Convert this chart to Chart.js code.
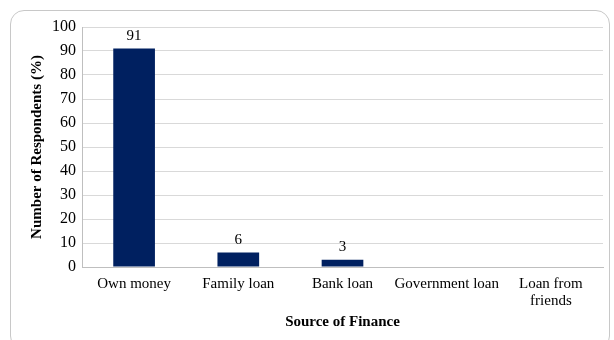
<!DOCTYPE html>
<html>
<head>
<meta charset="utf-8">
<script src="https://cdn.jsdelivr.net/npm/chart.js@4"></script>
<style>
    html, body { margin: 0; padding: 0; background: #fff; }
    #wrap { position: relative; width: 614px; height: 340px; }
    #frame { position: absolute; left: 10px; top: 10px; width: 600px; height: 340px;
             border: 1px solid #c8c8c8; border-radius: 14px; box-sizing: border-box; }
    canvas { position: absolute; left: 0; top: 0; }
</style>
</head>
<body>
<div id="wrap">
    <div id="frame"></div>
    <canvas id="chart" width="614" height="340"></canvas>
</div>
<script>
const categories = ['Own money', 'Family loan', 'Bank loan', 'Government loan', ['Loan from', 'friends']]
const respondents = [91, 6, 3, 0, 0]
const yTicks = [0, 10, 20, 30, 40, 50, 60, 70, 80, 90, 100]

const font = "'Liberation Serif', 'Times New Roman', serif"

// draws the value above each bar, skips zeros like the original
const valueLabels = {
    id: 'valueLabels',
    afterDatasetsDraw(chart) {
        let ctx = chart.ctx
        let meta = chart.getDatasetMeta(0)
        ctx.save()
        ctx.font = '15px ' + font
        ctx.fillStyle = '#000'
        ctx.textAlign = 'center'
        ctx.textBaseline = 'bottom'
        meta.data.forEach(function (bar, i) {
            let v = chart.data.datasets[0].data[i]
            if (v > 0) ctx.fillText(v, bar.x, bar.y - 5)
        })
        ctx.restore()
    }
}

let ctx = document.getElementById('chart').getContext('2d')
let myChart = new Chart(ctx, {
    type: 'bar',
    data: {
        labels: categories,
        datasets: [{
            data: respondents,
            backgroundColor: '#002060',
            barPercentage: 0.4,
            categoryPercentage: 1
        }]
    },
    options: {
        responsive: false,
        animation: false,
        layout: { padding: { left: 28, right: 11, top: 27, bottom: 7 } },
        plugins: {
            legend: { display: false },
            tooltip: { enabled: false }
        },
        scales: {
            x: {
                grid: { display: false, drawTicks: false },
                border: { color: '#bfbfbf' },
                ticks: { color: '#000', font: { family: font, size: 15, lineHeight: 1.1 }, padding: 9, maxRotation: 0, autoSkip: false },
                title: { display: true, text: 'Source of Finance', color: '#000', font: { family: font, size: 15, weight: 'bold' }, padding: { top: -5, bottom: 2 } }
            },
            y: {
                min: 0,
                max: 100,
                afterBuildTicks: function (axis) { axis.ticks = yTicks.map(v => ({ value: v })) },
                grid: { color: '#d9d9d9', drawTicks: false },
                border: { color: '#bfbfbf' },
                ticks: { color: '#000', font: { family: font, size: 16 }, padding: 6 },
                title: { display: true, text: 'Number of Respondents (%)', color: '#000', font: { family: font, size: 15, weight: 'bold' }, padding: { top: 0, bottom: 0 } }
            }
        }
    },
    plugins: [valueLabels]
})
</script>
</body>
</html>
